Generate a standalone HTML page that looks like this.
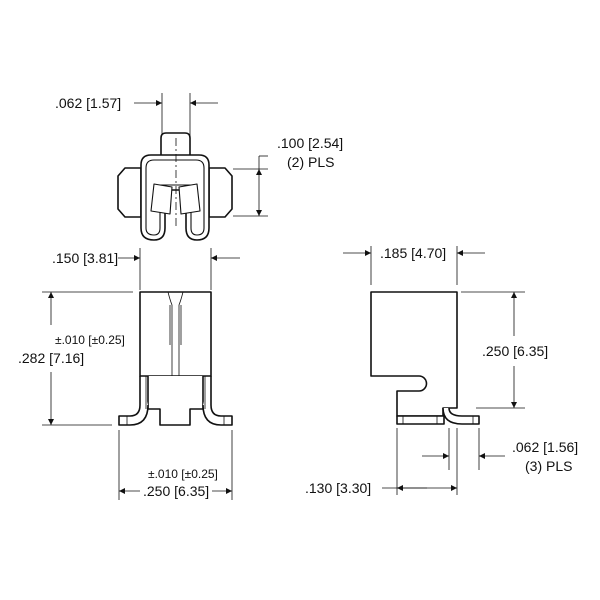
<!DOCTYPE html>
<html><head><style>body{margin:0;background:#fff}svg{display:block}text{font-family:"Liberation Sans",sans-serif;font-size:14px;fill:#111}.s{font-size:12px}</style></head><body>
<svg width="600" height="600" viewBox="0 0 600 600" xmlns="http://www.w3.org/2000/svg">
<defs>
<marker id="a" viewBox="0 0 10 10" refX="10" refY="5" markerWidth="10" markerHeight="6" orient="auto-start-reverse" markerUnits="userSpaceOnUse"><path d="M0,0L10,5L0,10z" fill="#111"/></marker>
</defs>
<g stroke="#111" fill="none" stroke-width="0.8">
<line x1="162" y1="93" x2="162" y2="140"/><line x1="190" y1="93" x2="190" y2="140"/>
<line x1="134" y1="103" x2="162" y2="103" marker-end="url(#a)"/>
<line x1="218" y1="103" x2="190" y2="103" marker-end="url(#a)"/>
<line x1="233" y1="169" x2="268" y2="169"/><line x1="233" y1="216" x2="268" y2="216"/>
<line x1="259" y1="156" x2="268" y2="156"/>
<line x1="259" y1="156" x2="259" y2="169"/>
<line x1="259" y1="192" x2="259" y2="169" marker-end="url(#a)"/>
<line x1="259" y1="192" x2="259" y2="216" marker-end="url(#a)"/>
<line x1="140" y1="248" x2="140" y2="290"/><line x1="211" y1="248" x2="211" y2="290"/>
<line x1="118" y1="258" x2="140" y2="258" marker-end="url(#a)"/>
<line x1="240" y1="258" x2="211" y2="258" marker-end="url(#a)"/>
<line x1="42" y1="292" x2="133" y2="292"/><line x1="42" y1="425" x2="112" y2="425"/>
<line x1="51" y1="325" x2="51" y2="292" marker-end="url(#a)"/>
<line x1="51" y1="372" x2="51" y2="425" marker-end="url(#a)"/>
<line x1="119" y1="430" x2="119" y2="500"/><line x1="232" y1="430" x2="232" y2="500"/>
<line x1="140" y1="491" x2="119" y2="491" marker-end="url(#a)"/>
<line x1="212" y1="491" x2="232" y2="491" marker-end="url(#a)"/>
<line x1="371" y1="246" x2="371" y2="285"/><line x1="457" y1="246" x2="457" y2="285"/>
<line x1="343" y1="253" x2="371" y2="253" marker-end="url(#a)"/>
<line x1="485" y1="253" x2="457" y2="253" marker-end="url(#a)"/>
<line x1="461" y1="292" x2="525" y2="292"/><line x1="476" y1="408" x2="525" y2="408"/>
<line x1="514" y1="336" x2="514" y2="292" marker-end="url(#a)"/>
<line x1="514" y1="366" x2="514" y2="408" marker-end="url(#a)"/>
<line x1="449" y1="428" x2="449" y2="470"/><line x1="479" y1="428" x2="479" y2="470"/>
<line x1="422" y1="456" x2="449" y2="456" marker-end="url(#a)"/>
<line x1="505" y1="456" x2="479" y2="456" marker-end="url(#a)"/>
<line x1="397" y1="428" x2="397" y2="495"/><line x1="457" y1="428" x2="457" y2="495"/>
<line x1="382" y1="488" x2="427" y2="488"/>
<line x1="427" y1="488" x2="397" y2="488" marker-end="url(#a)"/>
<line x1="427" y1="488" x2="457" y2="488" marker-end="url(#a)"/>
</g>
<g stroke="#111" fill="#fff" stroke-width="1.6" stroke-linejoin="round">
<path d="M161,155V138Q161,133 166,133H185Q190,133 190,138V155"/>
<path d="M141,168H125L118,176V209L125,217H141Z"/>
<path d="M209,168H225L232,176V209L225,217H209Z"/>
<path d="M141,165Q141,155 151,155H199Q209,155 209,165V228Q209,240 197,240Q186,240 186,228V190H165V228Q165,240 154,240Q141,240 141,228Z"/>
<path d="M146,168Q146,160 154,160H196Q204,160 204,168V228Q204,235 197,235Q191,235 191,228V185H160V228Q160,235 154,235Q146,235 146,228Z" stroke-width="1.1"/>
<path d="M154,184L172,187L170,214L151,211Z" stroke-width="1.1"/>
<path d="M179,187L197,184L200,211L181,214Z" stroke-width="1.1"/>
<path d="M140,292H211V376H140Z"/>
<path d="M148,376V409H160V425H190V409H203V376"/>
<path d="M140,376V405Q140,416 130,416H119V425H130Q148,425 148,405"/>
<path d="M211,376V405Q211,416 221,416H232V425H221Q203,425 203,405"/>
<path d="M371,292H457V408H443V416H397V391H419A7.5,7.5 0 0 0 419,376H371Z"/>
<path d="M397,416H444V424H397Z"/>
<path d="M449,408Q449,416 462,416H479V424H462Q443,424 443,408"/>
</g>
<g stroke="#111" stroke-width="0.8" fill="none">
<line x1="176" y1="138" x2="176" y2="228" stroke-dasharray="8,3,2,3"/>
<path d="M168,292Q170,300 172,305V376M183,292Q181,300 179,305V376M170,305V345M181,305V345"/>
<line x1="146" y1="376" x2="146" y2="409"/><line x1="205" y1="376" x2="205" y2="409"/>
<line x1="127" y1="416" x2="127" y2="425"/><line x1="224" y1="416" x2="224" y2="425"/>
<line x1="403" y1="416" x2="403" y2="424"/><line x1="437" y1="416" x2="437" y2="424"/><line x1="473" y1="416" x2="473" y2="424"/>
</g>
<text x="55" y="108">.062 [1.57]</text>
<text x="277" y="148">.100 [2.54]</text>
<text x="287" y="167">(2) PLS</text>
<text x="52" y="263">.150 [3.81]</text>
<text x="55" y="344" class="s">±.010 [±0.25]</text>
<text x="18" y="363">.282 [7.16]</text>
<text x="148" y="478" class="s">±.010 [±0.25]</text>
<text x="143" y="496">.250 [6.35]</text>
<text x="380" y="258">.185 [4.70]</text>
<text x="482" y="356">.250 [6.35]</text>
<text x="512" y="452">.062 [1.56]</text>
<text x="525" y="471">(3) PLS</text>
<text x="305" y="493">.130 [3.30]</text>
</svg>
</body></html>
